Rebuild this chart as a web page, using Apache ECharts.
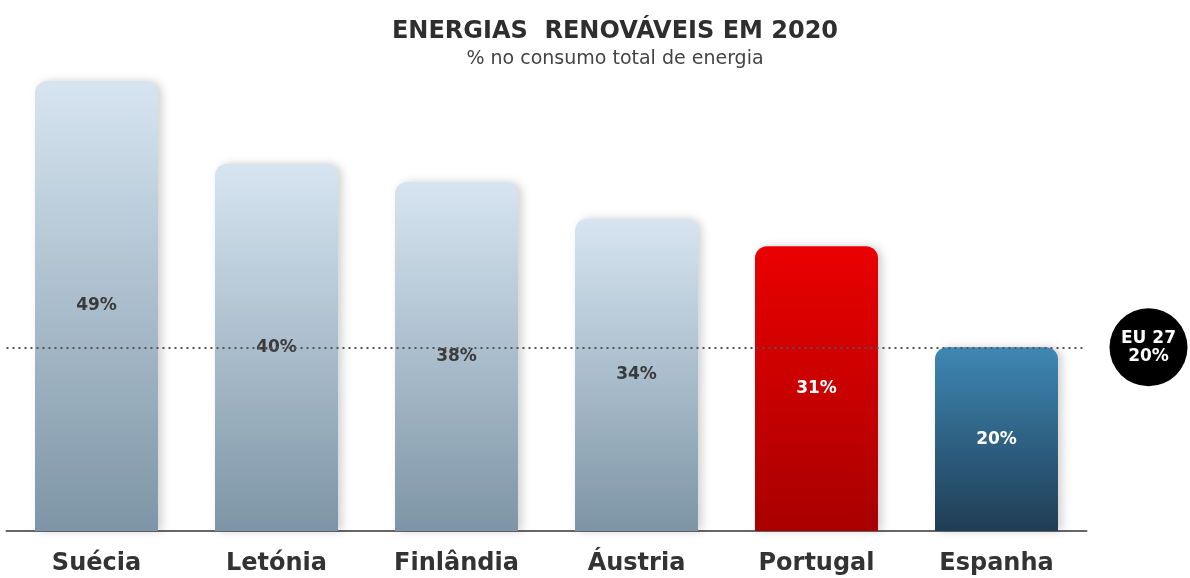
<!DOCTYPE html>
<html>
<head>
<meta charset="utf-8">
<script src="https://cdn.jsdelivr.net/npm/echarts@6/dist/echarts.min.js"></script>
<style>
html,body{margin:0;padding:0;background:#fff;}
#chart{width:1190px;height:578px;}
</style>
</head>
<body>
<div id="chart"></div>
<script>
const categories = ['Suécia', 'Letónia', 'Finlândia', 'Áustria', 'Portugal', 'Espanha'];
const values = [49, 40, 38, 34, 31, 20];
const euAverage = 20;
const euLabel = 'EU 27';

const FONT = '"DejaVu Sans", "Liberation Sans", Arial, sans-serif';

function grad(top, bottom) {
  return new echarts.graphic.LinearGradient(0, 0, 0, 1, [
    { offset: 0, color: top },
    { offset: 1, color: bottom }
  ]);
}
const styles = {
  'Portugal': { top: '#ea0000', bottom: '#a80000', label: '#ffffff' },
  'Espanha': { top: '#3f87b4', bottom: '#1f3d54', label: '#ffffff' }
};

const data = categories.map((c, i) => {
  const s = styles[c] || { top: '#d7e5f1', bottom: '#7d95a6', label: '#3a3a3a' };
  return {
    value: values[i],
    itemStyle: { color: grad(s.top, s.bottom) },
    label: { color: s.label }
  };
});

const chart = echarts.init(document.getElementById('chart'), null, { renderer: 'canvas' });
chart.setOption({
  animation: false,
  backgroundColor: '#ffffff',
  title: {
    text: 'ENERGIAS  RENOVÁVEIS EM 2020',
    subtext: '% no consumo total de energia',
    left: 610, top: 15, textAlign: 'center',
    itemGap: 6,
    textStyle: { fontFamily: FONT, fontSize: 24, fontWeight: 'bold', color: '#2e2e2e' },
    subtextStyle: { fontFamily: FONT, fontSize: 19, color: '#444444' }
  },
  grid: { left: 6.5, right: 103.5, top: 81, bottom: 47, containLabel: false },
  xAxis: {
    type: 'category',
    data: categories,
    axisLine: { show: true, lineStyle: { color: '#666666', width: 2 } },
    axisTick: { show: false },
    axisLabel: {
      fontFamily: FONT, fontSize: 24, fontWeight: 'bold', color: '#333333',
      margin: 21
    }
  },
  yAxis: {
    type: 'value', min: 0, max: 49,
    show: false,
    splitLine: { show: false }
  },
  series: [{
    type: 'bar',
    data: data,
    barWidth: 123,
    itemStyle: { borderRadius: [12, 12, 0, 0], shadowColor: 'rgba(0,0,0,0.18)', shadowBlur: 8, shadowOffsetX: 4 },
    label: {
      show: true, position: 'inside',
      formatter: '{c}%',
      fontFamily: FONT, fontSize: 17, fontWeight: 'bold'
    },
    markLine: {
      silent: true,
      symbol: ['none', 'none'],
      z: 10,
      data: [{ yAxis: euAverage }],
      lineStyle: { type: [2, 4], color: '#555555', width: 2 },
      label: {
        show: true,
        position: 'end',
        distance: 62,
        formatter: euLabel + '\n' + euAverage + '%',
        backgroundColor: '#000000',
        color: '#ffffff',
        fontFamily: FONT, fontSize: 17, fontWeight: 'bold',
        lineHeight: 18,
        width: 78, height: 78,
        borderRadius: 39,
        align: 'center',
        verticalAlign: 'middle'
      }
    }
  }]
});
</script>
</body>
</html>
